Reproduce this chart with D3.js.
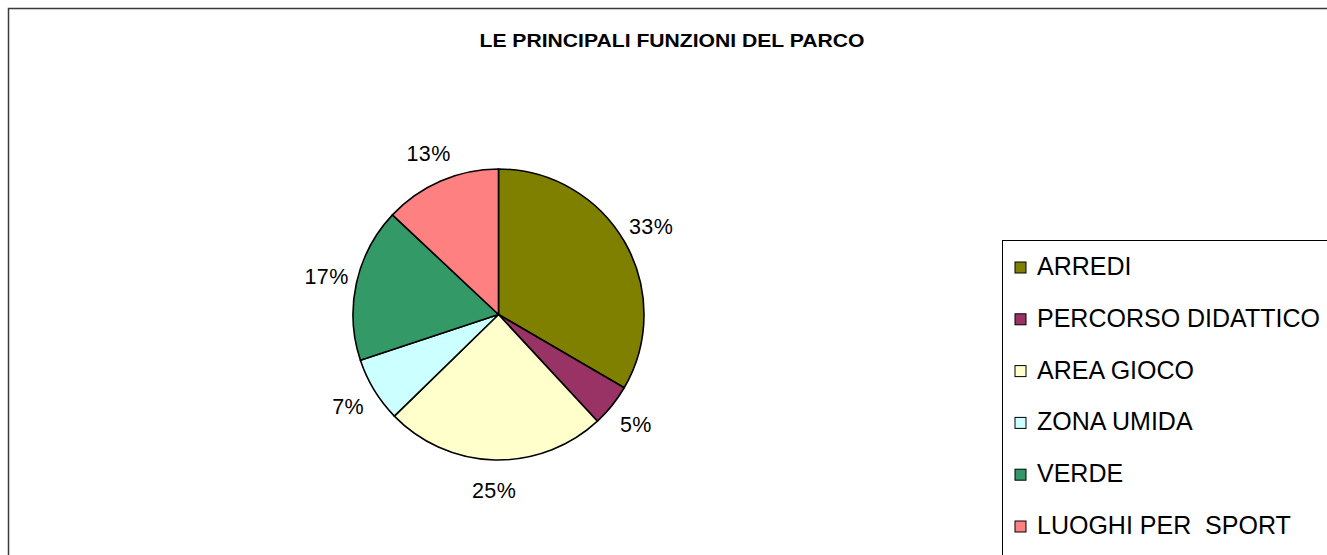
<!DOCTYPE html>
<html>

<head>
    <title>Le principali funzioni del parco</title>
    <script src="https://cdnjs.cloudflare.com/ajax/libs/d3/7.8.5/d3.min.js"></script>
</head>

<body>
    <style>
        html,
        body {
            margin: 0;
            padding: 0;
            background-color: #FFFFFF;
            overflow: hidden;
        }

        #chart text {
            font-family: 'Liberation Sans', Arial, sans-serif;
            fill: #000000;
        }
    </style>
    <div id="chart"></div>

    <script>
        const categories = ['ARREDI', 'PERCORSO DIDATTICO', 'AREA GIOCO', 'ZONA UMIDA', 'VERDE', 'LUOGHI PER  SPORT'];
        const values = [33.4, 4.7, 24.6, 7.2, 17.1, 13.0];
        const sliceColors = ['#808000', '#993366', '#FFFFCC', '#CCFFFF', '#339966', '#FF8080'];
        const chartTitle = 'LE PRINCIPALI FUNZIONI DEL PARCO';

        const width = 1327;
        const height = 555;

        const svg = d3.select('#chart')
            .append('svg')
            .attr('width', width)
            .attr('height', height);

        // outer chart frame, it runs off the right and bottom edge
        svg.append('rect')
            .attr('x', 8.5)
            .attr('y', 8.5)
            .attr('width', width + 20)
            .attr('height', height + 20)
            .attr('fill', '#FFFFFF')
            .attr('stroke', '#3a3a3a')
            .attr('stroke-width', 1.5);

        svg.append('text')
            .attr('x', 672)
            .attr('y', 47)
            .attr('text-anchor', 'middle')
            .attr('font-size', '18px')
            .attr('font-weight', 'bold')
            .attr('textLength', 385)
            .attr('lengthAdjust', 'spacingAndGlyphs')
            .text(chartTitle);

        const data = categories.map((c, i) => ({ name: c, value: values[i] }));
        const total = d3.sum(values);
        const fmt = d3.format('.0%');

        const radius = 145.5;
        const cx = 498.5;
        const cy = 314.5;

        const pie = d3.pie()
            .value((d) => d.value)
            .sort(null);

        const arc = d3.arc()
            .innerRadius(0)
            .outerRadius(radius);

        const labelArc = d3.arc()
            .innerRadius(176)
            .outerRadius(176);

        const pieGroup = svg.append('g')
            .attr('transform', `translate(${cx},${cy})`);

        pieGroup.selectAll('path')
            .data(pie(data))
            .enter()
            .append('path')
            .attr('d', arc)
            .attr('fill', (d, i) => sliceColors[i])
            .attr('stroke', '#000000')
            .attr('stroke-width', 1.6)
            .attr('stroke-linejoin', 'round');

        pieGroup.selectAll('text')
            .data(pie(data))
            .enter()
            .append('text')
            .attr('transform', (d) => `translate(${labelArc.centroid(d)})`)
            .attr('text-anchor', 'middle')
            .attr('dy', '0.35em')
            .attr('font-size', '21.5px')
            .attr('letter-spacing', '0.4px')
            .text((d) => fmt(d.data.value / total));

        // legend box, also cut by the window edge
        const legend = svg.append('g')
            .attr('transform', 'translate(1002.5,240.5)');

        legend.append('rect')
            .attr('width', 400)
            .attr('height', 400)
            .attr('fill', '#FFFFFF')
            .attr('stroke', '#000000')
            .attr('stroke-width', 1);

        const rowY = d3.scalePoint()
            .domain(categories)
            .range([27, 27 + 51.8 * (categories.length - 1)]);

        const rows = legend.selectAll('g.item')
            .data(categories)
            .enter()
            .append('g')
            .attr('class', 'item')
            .attr('transform', (d) => `translate(0,${rowY(d)})`);

        rows.append('rect')
            .attr('x', 12.5)
            .attr('y', -5.5)
            .attr('width', 11)
            .attr('height', 11)
            .attr('fill', (d, i) => sliceColors[i])
            .attr('stroke', '#000000')
            .attr('stroke-width', 1);

        rows.append('text')
            .attr('x', 34.5)
            .attr('y', 7.5)
            .attr('font-size', '25px')
            .style('white-space', 'pre')
            .text((d) => d);
    </script>
</body>

</html>
